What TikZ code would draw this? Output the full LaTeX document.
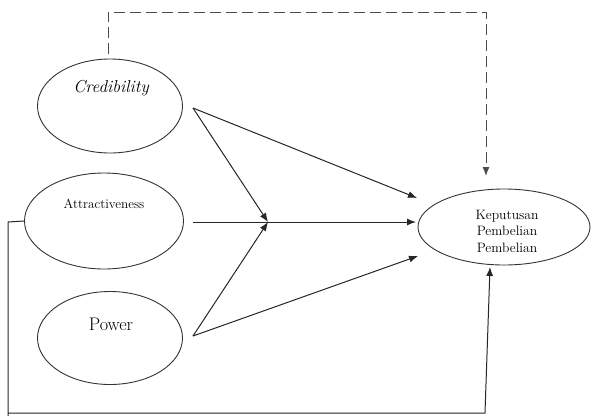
\documentclass[tikz,border=0pt]{standalone}
\usepackage{tikz}
\usetikzlibrary{shapes.geometric}
\usetikzlibrary{arrows.meta}
\usetikzlibrary{calc}
\tikzset{>={Latex[length=9pt,width=7pt]}}
\tikzset{var/.style={draw=black!80,line width=0.9pt,ellipse,inner sep=0pt}}
\tikzset{path/.style={line width=1pt,black!85}}

\begin{document}
\begin{tikzpicture}[x=1pt,y=-1pt]
    \useasboundingbox (0,0) rectangle (595,416);
    % ellipses
    \node[var,minimum width=145pt,minimum height=94pt] (cred) at (110,106) {};
    \node[var,minimum width=159pt,minimum height=96pt] (attr) at (104,221) {};
    \node[var,minimum width=145pt,minimum height=93pt] (pow) at (110,338) {};
    \node[var,minimum width=172pt,minimum height=76pt] (kep) at (504,227) {};
    % texts
    \node[font=\fontsize{17.3}{20}\selectfont\itshape] (credtxt) at (111,88) {Credibility};
    \node[font=\fontsize{13.2}{16}\selectfont] (attrtxt) at (104,204) {Attractiveness};
    \node[font=\fontsize{18.2}{22}\selectfont] (powtxt) at (111,324) {Power};
    \node[align=center,font=\fontsize{13.6}{16.5}\selectfont] (keptxt) at (507,231) {Keputusan\\Pembelian\\Pembelian};
    % ends of the arrows
    \coordinate (credout) at (193,108);
    \coordinate (attrout) at (193,222);
    \coordinate (powout) at (193,336);
    \coordinate (meet) at (268,222);
    \coordinate (kin1) at (417,198);
    \coordinate (kin2) at (416,222);
    \coordinate (kin3) at (418,256);
    \draw[path,->] (credout) -- (meet);
    \draw[path,->] (powout) -- (meet);
    \draw[path,->] (attrout) -- (kin2);
    \draw[path,->] (credout) -- (kin1);
    \draw[path,->] (powout) -- (kin3);
    % dashed line over the top
    \draw[path,black!70,dash pattern=on 11pt off 5pt,->] (108,54) -- (108,12) -- (486,12) -- (486,176);
    % line round the bottom
    \draw[path,->] (attr.west) -- (8,222) -- (8,416) -- (8,413) -- (485,413) -- (490,267);
\end{tikzpicture}
\end{document}
